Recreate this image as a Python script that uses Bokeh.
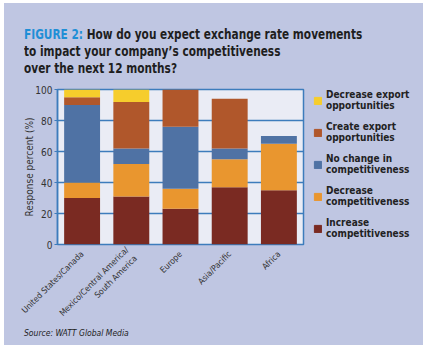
from math import pi
from bokeh.plotting import figure
from bokeh.layouts import column, row
from bokeh.models import FactorRange, Legend, LegendItem, ColumnDataSource, Div
from bokeh.embed import file_html
from bokeh.resources import INLINE

regions = ["United States/Canada", "Mexico/Central America/\nSouth America", "Europe", "Asia/Pacific", "Africa"]
legend_labels = ["Increase\ncompetitiveness", "Decrease\ncompetitiveness", "No change in\ncompetitiveness",
                 "Create export\nopportunities", "Decrease export\nopportunities"]
increase_comp = [30, 31, 23, 37, 35]
decrease_comp = [10, 21, 13, 18, 30]
no_change = [50, 10, 40, 7, 5]
create_export = [5, 30, 24, 32, 0]
decrease_export = [5, 8, 0, 0, 0]
y_ticks = [0, 20, 40, 60, 80, 100]

colors = ["#7a2a22", "#e9962f", "#4f72a4", "#b0572b", "#f6cd2c"]
BLUE = "#3d7cbc"
PANEL = "#bfc6e2"
FONT = "DejaVu Sans Condensed"

title_html = (
    '<div style="padding:23px 0 0 20px;">'
    '<div style="font-family:\'DejaVu Sans Condensed\';font-weight:bold;font-size:14.5px;'
    'line-height:17px;color:#1e1e1e;white-space:nowrap;'
    'transform:scaleX(0.81);transform-origin:0 0;">'
    '<span style="color:#1f8fd6">FIGURE 2:</span> How do you expect exchange rate movements<br>'
    'to impact your company\u2019s competitiveness<br>over the next 12 months?</div></div>'
)
source_html = (
    '<div style="font-family:\'DejaVu Sans Condensed\';font-style:italic;font-size:8.5px;'
    'line-height:10px;color:#222222;padding:0 0 0 20px;position:relative;top:-14px;">'
    'Source: WATT Global Media</div>'
)

src = ColumnDataSource(dict(region=regions, s0=increase_comp, s1=decrease_comp, s2=no_change,
                            s3=create_export, s4=decrease_export))

p = figure(width=303, height=255, x_range=FactorRange(*regions, range_padding=0), y_range=(0, 100),
           output_backend="svg", toolbar_location=None, margin=0,
           min_border_left=53, min_border_right=4, min_border_top=6, min_border_bottom=94)
p.border_fill_color = PANEL
p.background_fill_color = "#eaecf5"
p.outline_line_color = BLUE
p.outline_line_width = 1.5

rs = p.vbar_stack(["s0", "s1", "s2", "s3", "s4"], x="region", width=0.73, color=colors, source=src,
                  line_color=None)

p.xgrid.grid_line_color = None
p.ygrid.grid_line_color = BLUE
p.ygrid.grid_line_width = 1.5
p.yaxis.ticker = y_ticks
p.yaxis.axis_line_color = BLUE
p.yaxis.axis_line_width = 1.5
p.yaxis.major_tick_line_color = BLUE
p.yaxis.major_tick_in = 0
p.yaxis.major_tick_out = 3
p.yaxis.minor_tick_line_color = None
p.yaxis.major_label_text_font = FONT
p.yaxis.major_label_text_font_size = "10px"
p.yaxis.major_label_text_color = "#333333"
p.yaxis.major_label_standoff = 2
p.yaxis.axis_label = "Response percent (%)"
p.yaxis.axis_label_text_font = FONT
p.yaxis.axis_label_text_font_style = "normal"
p.yaxis.axis_label_text_font_size = "10px"
p.yaxis.axis_label_text_color = "#333333"
p.yaxis.axis_label_standoff = -3

p.xaxis.axis_line_color = None
p.xaxis.major_tick_line_color = None
p.xaxis.minor_tick_line_color = None
p.xaxis.major_label_orientation = pi / 4
p.xaxis.major_label_text_font = FONT
p.xaxis.major_label_text_font_size = "8.5px"
p.xaxis.major_label_text_color = "#333333"
p.xaxis.major_label_standoff = 2

# legend panel (its frame is aligned with the chart's frame)
lg = figure(width=116, height=255, output_backend="svg", toolbar_location=None, margin=0,
            x_axis_type=None, y_axis_type=None,
            min_border_left=6, min_border_right=0, min_border_top=6, min_border_bottom=94)
lg.border_fill_color = PANEL
lg.background_fill_color = PANEL
lg.outline_line_color = None
lg.grid.grid_line_color = None
nan = float("nan")
dummies = [lg.vbar(x=[nan], top=[nan], width=1, color=c) for c in colors]
items = [LegendItem(label=legend_labels[i], renderers=[dummies[i]]) for i in reversed(range(5))]
legend = Legend(items=items, location="top_left", orientation="vertical", margin=0,
                glyph_width=9, glyph_height=9, label_standoff=4, spacing=10, padding=0,
                background_fill_alpha=0, border_line_alpha=0,
                label_text_font=FONT, label_text_font_size="10px", label_text_font_style="bold",
                label_text_color="#222222", label_text_line_height=1.1)
lg.add_layout(legend)

title_div = Div(text=title_html, width=419, height=80, margin=0, styles={"background-color": PANEL})
source_div = Div(text=source_html, width=419, height=7, margin=0,
                 styles={"background-color": PANEL, "overflow": "visible"})

layout = column(title_div, row(p, lg, spacing=0, margin=0), source_div, spacing=0, margin=(3, 6, 5, 4),
                styles={"background-color": PANEL})

open("out.html", "w").write(file_html(layout, INLINE))
